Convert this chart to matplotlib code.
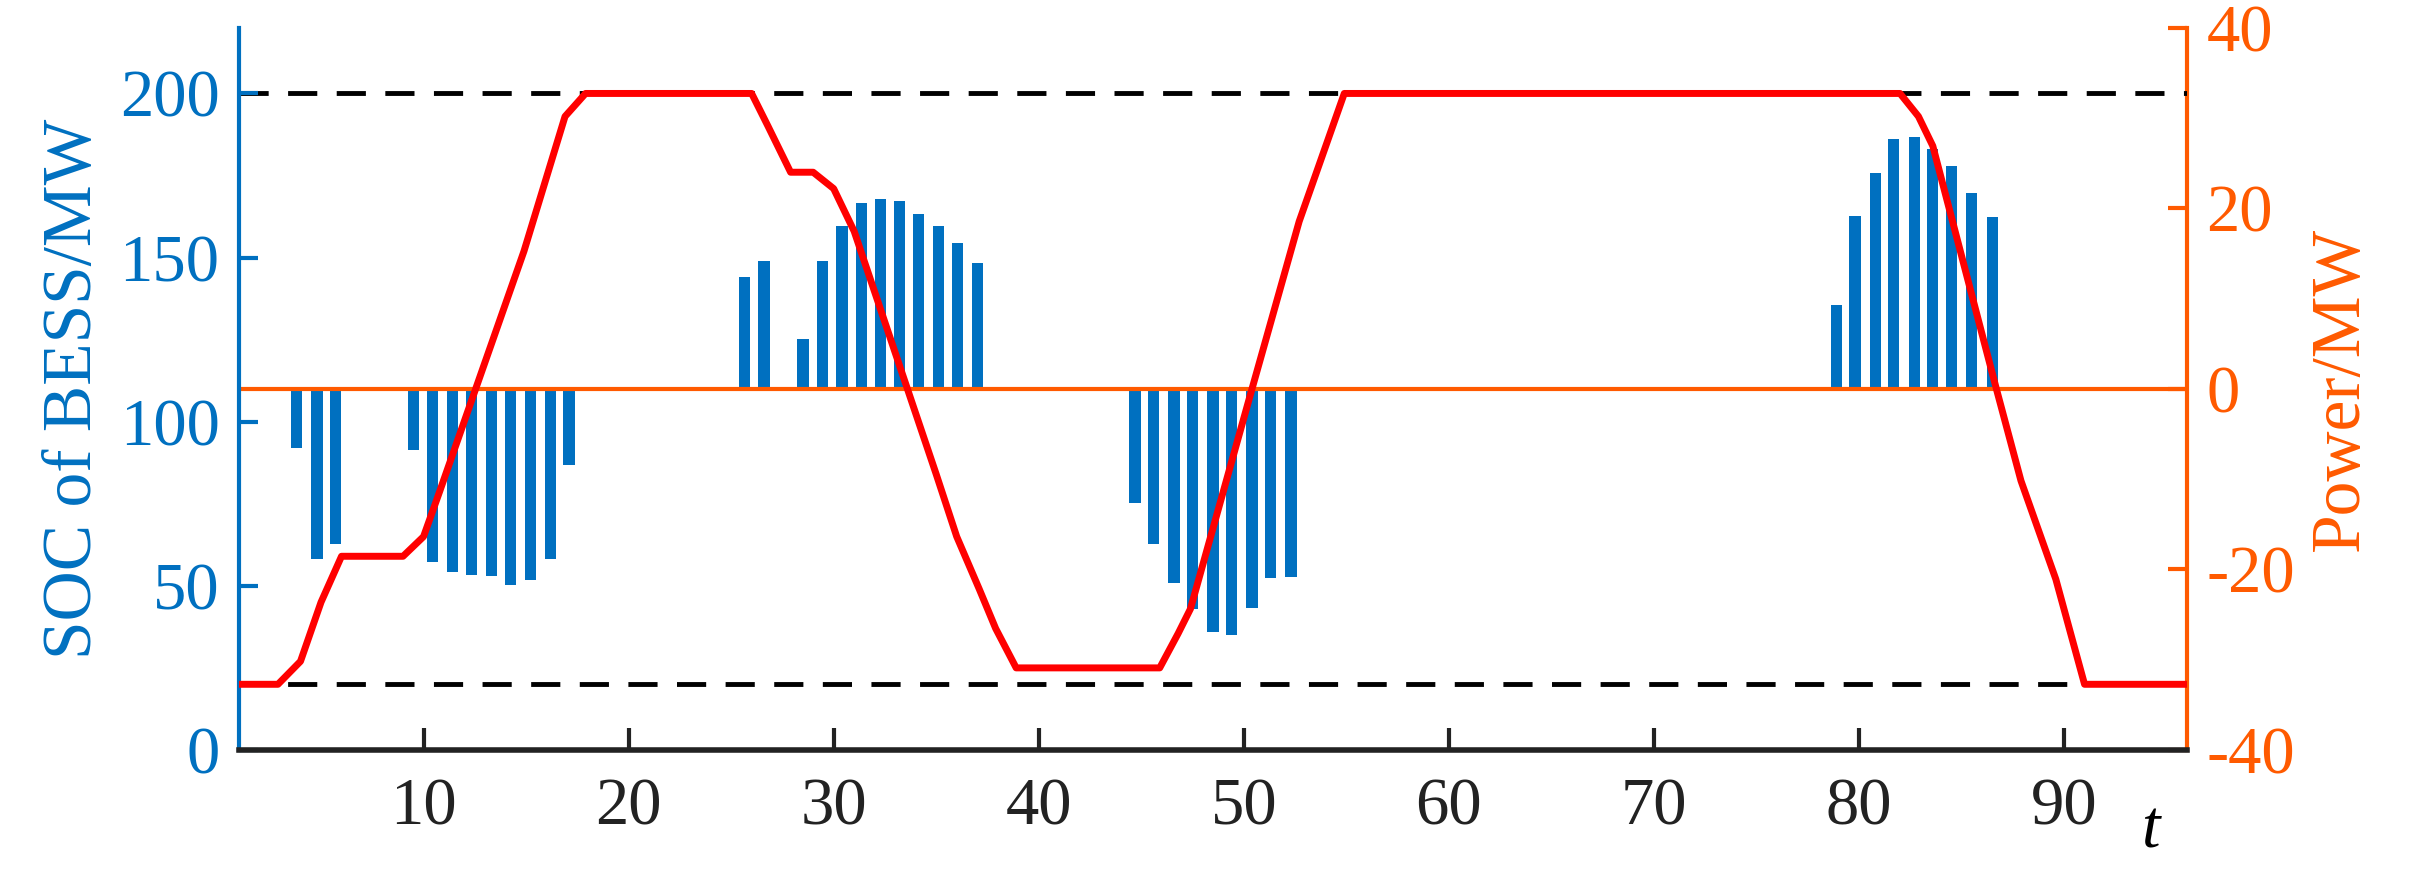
import numpy as np
import matplotlib
matplotlib.use('Agg')
import matplotlib.pyplot as plt

# SOC trajectory of the BESS (MW)
soc_t = [1.0, 2.9, 4.0, 5.0, 6.0, 9.0, 10.0, 10.8, 14.9, 16.9, 17.9, 26.0, 26.8,
         27.9, 29.0, 30.0, 31.0, 33.65, 35.0, 36.0, 37.1, 37.9, 38.9, 45.9,
         46.8, 47.4, 50.4, 52.7, 54.9, 82.0, 82.9, 83.6, 86.7, 87.9, 89.6, 91.0, 96.0]
soc_v = [20, 20, 27, 45, 59, 59, 65, 79, 152, 193, 200, 200, 190,
         176, 176, 171, 158, 109, 84, 65, 49, 37, 25, 25,
         35.5, 43, 110, 161, 200, 200, 193, 184, 110, 82, 52, 20, 20]

# BESS power bars (MW)
bar_t = [3.8, 4.8, 5.7,
         9.5, 10.45, 11.4, 12.35, 13.3, 14.25, 15.2, 16.2, 17.1,
         25.65, 26.6, 28.5, 29.45, 30.4, 31.35, 32.3, 33.2, 34.15, 35.1, 36.05, 37.0,
         44.7, 45.6, 46.6, 47.5, 48.5, 49.4, 50.4, 51.3, 52.3,
         78.9, 79.8, 80.8, 81.7, 82.7, 83.6, 84.5, 85.5, 86.5]
bar_p = [-6.5, -18.9, -17.2,
         -6.8, -19.2, -20.3, -20.6, -20.7, -21.7, -21.2, -18.8, -8.4,
         12.4, 14.2, 5.5, 14.2, 18.0, 20.6, 21.0, 20.8, 19.4, 18.0, 16.2, 13.9,
         -12.6, -17.2, -21.5, -24.4, -26.9, -27.3, -24.3, -20.9, -20.8,
         9.3, 19.2, 23.9, 27.7, 27.9, 26.6, 24.7, 21.7, 19.0]

soc_limits = [20, 200]
x_ticks = [10, 20, 30, 40, 50, 60, 70, 80, 90]

blue = '#0070C0'
orange = '#FF5A00'
red = '#FF0000'

plt.rcParams['font.family'] = ['Liberation Serif', 'DejaVu Serif']
plt.rcParams['font.size'] = 48
plt.rcParams['axes.unicode_minus'] = False

fig = plt.figure(figsize=(24.14, 8.69), dpi=100)
ax = fig.add_axes([0.099, 0.137, 0.807, 0.831])
ax2 = ax.twinx()

# power on the right axis, drawn below the SOC curve
ax2.bar(bar_t, bar_p, width=0.55, color=blue, zorder=2)
ax2.axhline(0, color=orange, linewidth=3, zorder=3)
ax2.set_ylim(-40, 40)
ax2.set_yticks([-40, -20, 0, 20, 40])
ax2.set_ylabel('Power/MW', color=orange, fontsize=50, labelpad=10)

for lim in soc_limits:
    ax.axhline(lim, color='black', linestyle=(0, (6, 4)), linewidth=3.5, zorder=1)
ax.plot(soc_t, soc_v, color=red, linewidth=5, zorder=5)

ax.set_zorder(ax2.get_zorder() + 1)
ax.patch.set_visible(False)
ax.set_xlim(1, 96)
ax.set_ylim(0, 220)
ax.set_yticks([0, 50, 100, 150, 200])
ax.set_xticks(x_ticks)
ax.set_ylabel('SOC of BESS/MW', color=blue, fontsize=50, labelpad=10)

ax.tick_params(axis='y', colors=blue, direction='in', length=14, width=3, pad=14)
ax.tick_params(axis='x', colors='#222222', direction='in', length=16, width=3, pad=20)
ax2.tick_params(axis='y', colors=orange, direction='in', length=14, width=3, pad=14)

for a in (ax, ax2):
    a.spines['top'].set_visible(False)
ax.spines['left'].set_color(blue)
ax.spines['left'].set_linewidth(3)
ax.spines['bottom'].set_color('#222222')
ax.spines['bottom'].set_linewidth(4)
ax.spines['right'].set_visible(False)
ax2.spines['left'].set_visible(False)
ax2.spines['bottom'].set_visible(False)
ax2.spines['right'].set_color(orange)
ax2.spines['right'].set_linewidth(3)

ax.text(94.2, -0.07, 't', transform=ax.get_xaxis_transform(), fontstyle='italic',
        ha='center', va='top', fontsize=48)

fig.savefig('out.png', dpi=100)
